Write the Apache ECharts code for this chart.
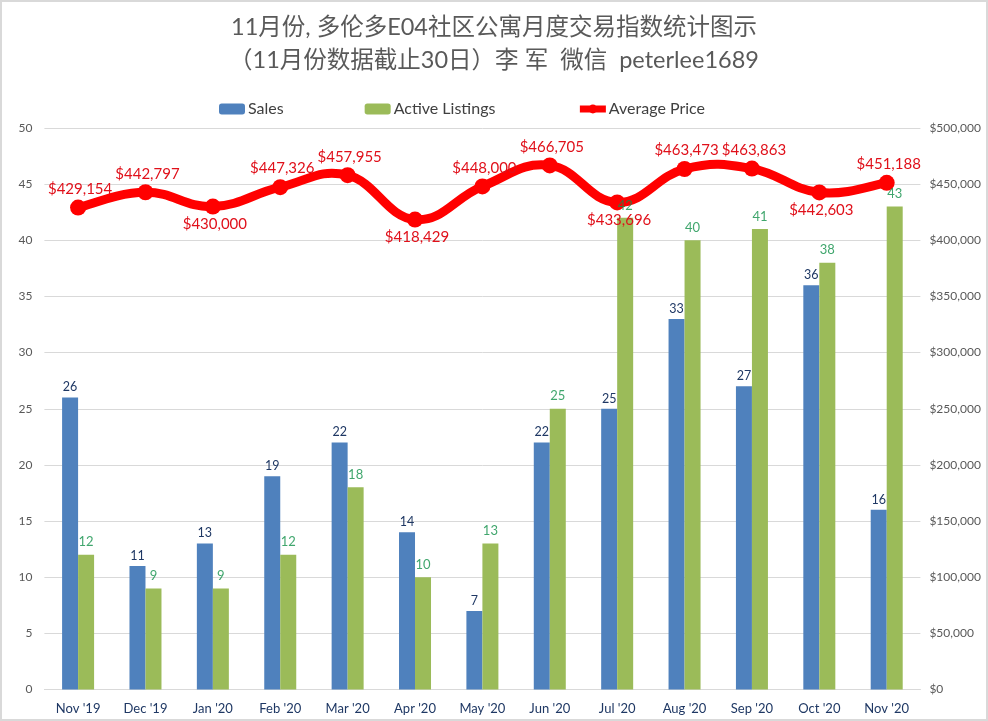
<!DOCTYPE html>
<html><head><meta charset="utf-8">
<style>html,body{margin:0;padding:0;background:#fff}#c{width:988px;height:721px}</style>
<script src="https://cdn.jsdelivr.net/npm/echarts@6/dist/echarts.min.js"></script></head>
<body><div id="c"></div>
<script>
const categories=["Nov '19","Dec '19","Jan '20","Feb '20","Mar '20","Apr '20","May '20","Jun '20","Jul '20","Aug '20","Sep '20","Oct '20","Nov '20"];
const sales=[26,11,13,19,22,14,7,22,25,33,27,36,16];
const listings=[12,9,9,12,18,10,13,25,42,40,41,38,43];
const prices=[429154,442797,430000,447326,457955,418429,448000,466705,433696,463473,463863,442603,451188];
const priceLabelPos=['top','top','bottom','top','top','bottom','top','top','bottom','top','top','bottom','top'];
const titleLines="11月份, 多伦多E04社区公寓月度交易指数统计图示\n（11月份数据截止30日）李 军  微信  peterlee1689";
const FONT="Lato, 'Noto Sans CJK SC', sans-serif";
const TENSION=0.21;
function curveSegment(params,api){
  const i=params.dataIndex;
  if(i>=prices.length-1) return null;
  const pt=k=>{const j=Math.max(0,Math.min(prices.length-1,k));return api.coord([j,prices[j]]);};
  const p0=pt(i-1),p1=pt(i),p2=pt(i+1),p3=pt(i+2);
  return {type:'bezierCurve',silent:true,
    shape:{x1:p1[0],y1:p1[1],x2:p2[0],y2:p2[1],
      cpx1:p1[0]+(p2[0]-p0[0])*TENSION,cpy1:p1[1]+(p2[1]-p0[1])*TENSION,
      cpx2:p2[0]-(p3[0]-p1[0])*TENSION,cpy2:p2[1]-(p3[1]-p1[1])*TENSION},
    style:{fill:null,stroke:'#ff0000',lineWidth:9,lineCap:'round'}};
}
const chart=echarts.init(document.getElementById('c'),null,{renderer:'canvas'});
chart.setOption({
  backgroundColor:'#fff',animation:false,
  textStyle:{fontFamily:FONT},
  title:{text:titleLines,left:'center',top:6,
    textStyle:{fontSize:23.5,fontWeight:'normal',color:'#595959',lineHeight:33,fontFamily:FONT}},
  legend:{top:96,left:214,itemGap:81,itemWidth:26,itemHeight:11,
    textStyle:{fontSize:16,color:'#404040',padding:[0,0,0,-2]},
    lineStyle:{width:7},
    data:['Sales','Active Listings','Average Price']},
  grid:{left:44.4,right:67.6,top:128,bottom:31.5,containLabel:false},
  xAxis:{type:'category',data:categories,
    axisLine:{lineStyle:{color:'#d9d9d9'}},axisTick:{show:false},
    axisLabel:{color:'#1f3864',fontSize:13,margin:13,interval:0}},
  yAxis:[
    {type:'value',min:0,max:50,interval:5,
     axisLine:{show:false},axisTick:{show:false},
     axisLabel:{color:'#595959',fontSize:12,margin:12},
     splitLine:{lineStyle:{color:'#d9d9d9'}}},
    {type:'value',min:0,max:500000,interval:50000,
     axisLine:{show:false},axisTick:{show:false},
     axisLabel:{color:'#595959',fontSize:12,margin:9,formatter:v=>'$'+v.toLocaleString('en-US')},
     splitLine:{show:false}}
  ],
  series:[
    {name:'Sales',type:'bar',data:sales,barWidth:16,barGap:0,
     itemStyle:{color:'#4f81bd'},
     label:{show:true,position:'top',distance:4,color:'#1f3864',fontSize:12.5}},
    {name:'Active Listings',type:'bar',data:listings,barWidth:16,
     itemStyle:{color:'#9bbb59'}},
    {name:'Price curve',type:'custom',yAxisIndex:1,z:4,silent:true,clip:false,
     data:prices.map((v,i)=>[i,v]),encode:{x:0,y:1},renderItem:curveSegment},
    {name:'Average Price',type:'line',yAxisIndex:1,z:5,
     data:prices.map((v,i)=>({value:v,label:{position:priceLabelPos[i],distance:priceLabelPos[i]==='top'?3:2}})),
     symbol:'circle',symbolSize:16,
     lineStyle:{color:'#ff0000',width:0},itemStyle:{color:'#ff0000'},
     label:{show:true,offset:[2,0],color:'#e0101a',fontSize:15,
       formatter:p=>'$'+p.value.toLocaleString('en-US')}},
    {name:'Listing labels',type:'scatter',data:listings,symbolSize:0,z:6,silent:true,
     label:{show:true,position:'top',distance:6,offset:[8,0],color:'#109048',fontSize:13}}
  ],
  graphic:[{type:'rect',z:100,silent:true,shape:{x:1,y:1,width:986,height:719},
    style:{fill:'none',stroke:'#d9d9d9',lineWidth:2}}]
});
</script></body></html>
